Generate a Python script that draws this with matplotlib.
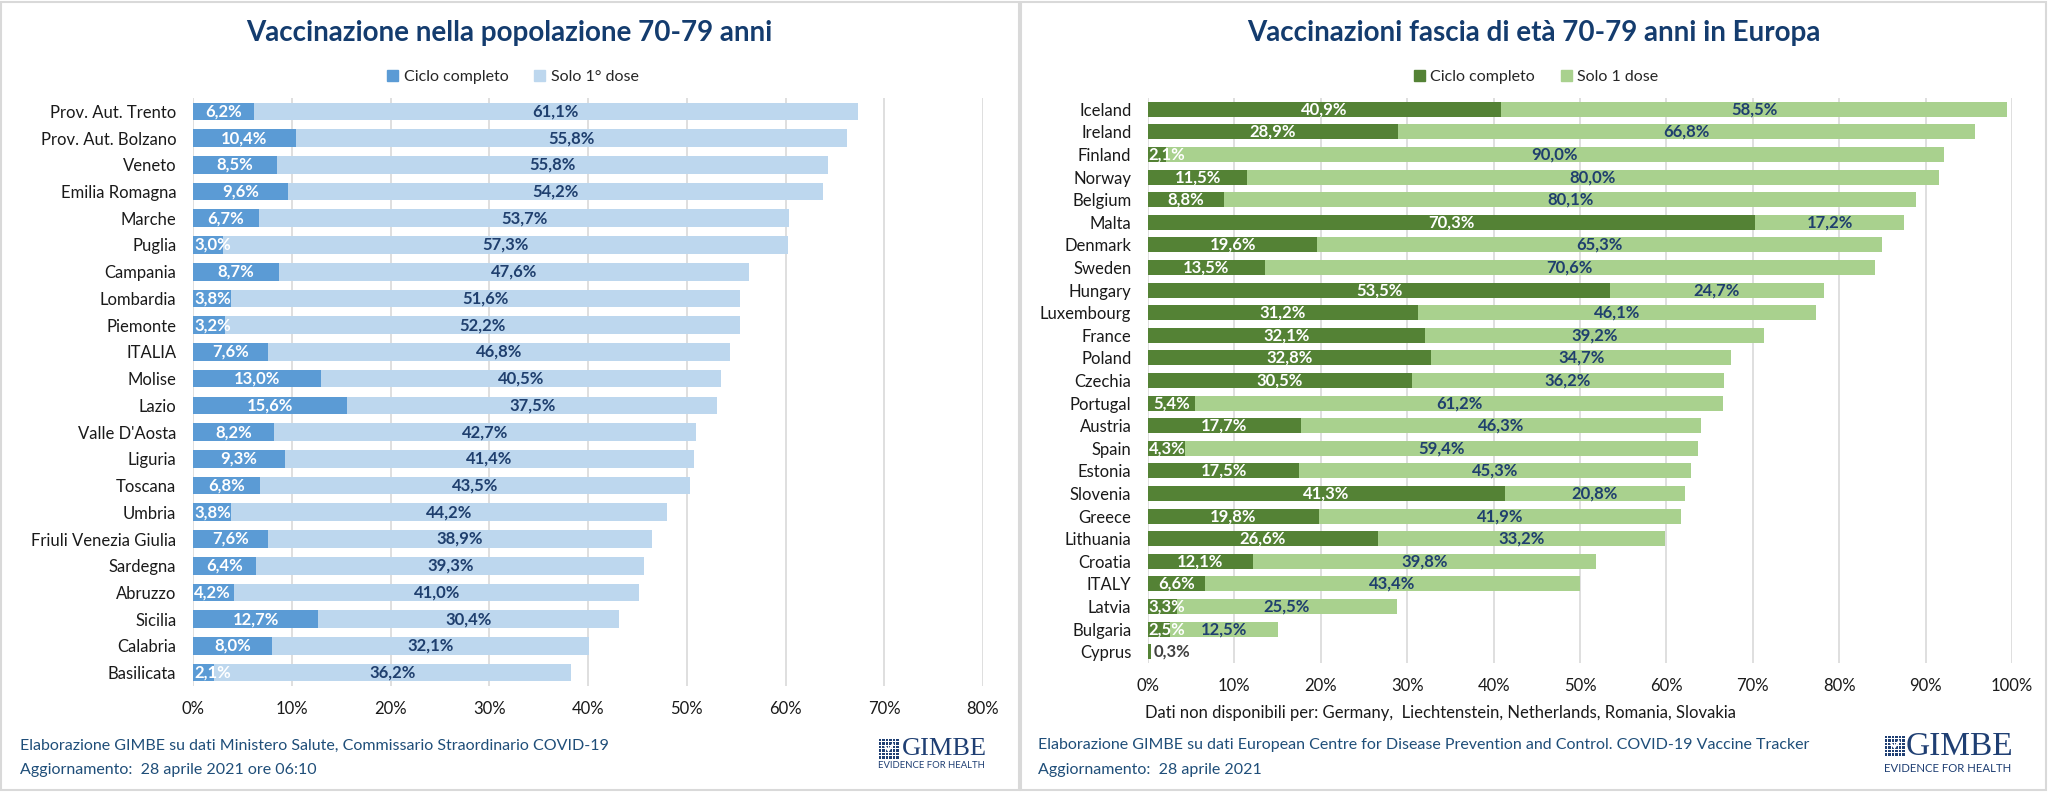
import numpy as np
import matplotlib
matplotlib.use('Agg')
import matplotlib.pyplot as plt
from matplotlib.patches import Rectangle, Patch
from matplotlib.lines import Line2D

plt.rcParams['font.family'] = ['Lato', 'DejaVu Sans']

# ---------------- data ----------------
regions = ["Prov. Aut. Trento", "Prov. Aut. Bolzano", "Veneto", "Emilia Romagna", "Marche",
           "Puglia", "Campania", "Lombardia", "Piemonte", "ITALIA", "Molise", "Lazio",
           "Valle D'Aosta", "Liguria", "Toscana", "Umbria", "Friuli Venezia Giulia",
           "Sardegna", "Abruzzo", "Sicilia", "Calabria", "Basilicata"]
it_full = [6.2, 10.4, 8.5, 9.6, 6.7, 3.0, 8.7, 3.8, 3.2, 7.6, 13.0, 15.6,
           8.2, 9.3, 6.8, 3.8, 7.6, 6.4, 4.2, 12.7, 8.0, 2.1]
it_first = [61.1, 55.8, 55.8, 54.2, 53.7, 57.3, 47.6, 51.6, 52.2, 46.8, 40.5, 37.5,
            42.7, 41.4, 43.5, 44.2, 38.9, 39.3, 41.0, 30.4, 32.1, 36.2]

countries = ["Iceland", "Ireland", "Finland", "Norway", "Belgium", "Malta", "Denmark",
             "Sweden", "Hungary", "Luxembourg", "France", "Poland", "Czechia", "Portugal",
             "Austria", "Spain", "Estonia", "Slovenia", "Greece", "Lithuania", "Croatia",
             "ITALY", "Latvia", "Bulgaria", "Cyprus"]
eu_full = [40.9, 28.9, 2.1, 11.5, 8.8, 70.3, 19.6, 13.5, 53.5, 31.2, 32.1, 32.8, 30.5,
           5.4, 17.7, 4.3, 17.5, 41.3, 19.8, 26.6, 12.1, 6.6, 3.3, 2.5, 0.3]
eu_first = [58.5, 66.8, 90.0, 80.0, 80.1, 17.2, 65.3, 70.6, 24.7, 46.1, 39.2, 34.7, 36.2,
            61.2, 46.3, 59.4, 45.3, 20.8, 41.9, 33.2, 39.8, 43.4, 25.5, 12.5, 0.0]

it_ticks = [0, 10, 20, 30, 40, 50, 60, 70, 80]
eu_ticks = [0, 10, 20, 30, 40, 50, 60, 70, 80, 90, 100]

it_title = "Vaccinazione nella popolazione 70-79 anni"
eu_title = "Vaccinazioni fascia di età 70-79 anni in Europa"
it_legend = ["Ciclo completo", "Solo 1° dose"]
eu_legend = ["Ciclo completo", "Solo 1 dose"]
it_source = ["Elaborazione GIMBE su dati Ministero Salute, Commissario Straordinario COVID-19",
             "Aggiornamento:  28 aprile 2021 ore 06:10"]
eu_source = ["Elaborazione GIMBE su dati European Centre for Disease Prevention and Control. COVID-19 Vaccine Tracker",
             "Aggiornamento:  28 aprile 2021"]
eu_note = "Dati non disponibili per: Germany,  Liechtenstein, Netherlands, Romania, Slovakia"

# ---------------- style ----------------
IT_DARK, IT_LIGHT = "#5B9BD5", "#BDD7EE"
EU_DARK, EU_LIGHT = "#548235", "#A9D18E"
NAVY_LABEL = "#1F3F6E"
TITLE_C = "#143C6E"
FOOT_C = "#1F4E79"
GRID_C = "#D9D9D9"
LOGO_C = "#1F3F73"

W, H = 2048, 794
fig = plt.figure(figsize=(W / 100, H / 100), dpi=100)


def fx(px):
    return px / W


def fy(py):
    return 1 - py / H


def fmt(v):
    return f"{v:.1f}".replace('.', ',') + '%'


def draw(ax, cats, full, first, c_dark, c_light, xmax, ticks):
    y = np.arange(len(cats))
    ax.barh(y, full, height=0.66, color=c_dark, zorder=3)
    ax.barh(y, first, left=full, height=0.66, color=c_light, zorder=3)
    # half of a label's width (about 22 px) expressed in data units
    px_per_unit = ax.get_position().width * W / xmax
    half_w = 22 / px_per_unit
    for yi, a, b in zip(y, full, first):
        if a < 1:
            ax.text(a + 0.4, yi, fmt(a), ha='left', va='center', color='#404040',
                    fontweight='bold', fontsize=12, zorder=4)
        elif a / 2 < half_w:
            ax.text(0.1, yi, fmt(a), ha='left', va='center', color='white',
                    fontweight='bold', fontsize=12, zorder=4)
        else:
            ax.text(a / 2, yi, fmt(a), ha='center', va='center', color='white',
                    fontweight='bold', fontsize=12, zorder=4)
        if b > 0:
            ax.text(a + b / 2, yi, fmt(b), ha='center', va='center', color=NAVY_LABEL,
                    fontweight='bold', fontsize=12, zorder=4)
    ax.set_xlim(0, xmax)
    ax.set_ylim(len(cats) - 0.5, -0.5)
    ax.set_yticks(y, cats)
    ax.set_xticks(ticks, [f"{t}%" for t in ticks])
    ax.grid(axis='x', color=GRID_C, lw=1.2)
    ax.grid(axis='y', visible=False)
    ax.set_axisbelow(True)
    for s in ax.spines.values():
        s.set_visible(False)
    ax.tick_params(axis='y', length=0, labelsize=12, labelcolor='#1a1a1a', pad=12)
    ax.tick_params(axis='x', length=0, labelsize=12, labelcolor='#1a1a1a', pad=11)


ax1 = fig.add_axes([fx(193), fy(686), fx(983) - fx(193), fy(98) - fy(686)])
draw(ax1, regions, it_full, it_first, IT_DARK, IT_LIGHT, 80, it_ticks)

ax2 = fig.add_axes([fx(1148), fy(663), fx(2012) - fx(1148), fy(98) - fy(663)])
draw(ax2, countries, eu_full, eu_first, EU_DARK, EU_LIGHT, 100, eu_ticks)

# titles
fig.text(fx(509), fy(33), it_title, ha='center', va='center', fontsize=20,
         fontweight='bold', color=TITLE_C)
fig.text(fx(1534), fy(33), eu_title, ha='center', va='center', fontsize=20,
         fontweight='bold', color=TITLE_C)

# legends
for cx, labels, cd, cl in [(513, it_legend, IT_DARK, IT_LIGHT), (1536, eu_legend, EU_DARK, EU_LIGHT)]:
    fig.legend(handles=[Patch(color=cd, label=labels[0]), Patch(color=cl, label=labels[1])],
               loc='center', bbox_to_anchor=(fx(cx), fy(77)), ncol=2, frameon=False,
               fontsize=11.5, handlelength=0.7, handleheight=0.7, handletextpad=0.35,
               columnspacing=1.6, labelcolor='#262626')

# note & sources
fig.text(fx(1145), fy(713), eu_note, ha='left', va='center', fontsize=12, color='#1a1a1a')
for i, line in enumerate(it_source):
    fig.text(fx(20), fy(746 + 24 * i), line, ha='left', va='center', fontsize=11.5, color=FOOT_C)
for i, line in enumerate(eu_source):
    fig.text(fx(1038), fy(745 + 25 * i), line, ha='left', va='center', fontsize=11.5, color=FOOT_C)


# logos (decorative)
def logo(ix, iy, isz, gx, gy, gsize, sx, sy, ssize):
    n = 6
    cell = isz / n
    for r in range(n):
        for c in range(n):
            fig.add_artist(Rectangle((fx(ix + c * cell + 0.5), fy(iy + (r + 1) * cell - 0.5)),
                                     (cell - 1) / W, (cell - 1) / H, transform=fig.transFigure,
                                     color=LOGO_C, lw=0))
    fig.add_artist(Line2D([fx(ix + isz * 0.35), fx(ix + isz * 0.5), fx(ix + isz * 0.7)],
                          [fy(iy + isz * 0.42), fy(iy + isz * 0.6), fy(iy + isz * 0.3)],
                          transform=fig.transFigure, color='white', lw=1.5))
    fig.text(fx(gx), fy(gy), "GIMBE", ha='left', va='center', fontsize=gsize,
             family=['Liberation Serif', 'DejaVu Serif'], color=LOGO_C)
    fig.text(fx(sx), fy(sy), "EVIDENCE FOR HEALTH", ha='left', va='center',
             fontsize=ssize, color=LOGO_C)


logo(878, 738, 21, 902, 749, 19, 878, 765.5, 6.8)
logo(1884, 735, 21, 1906, 747, 24, 1884, 768, 8.2)

# panel frames
fig.add_artist(Rectangle((fx(1), fy(790)), fx(1019) - fx(1), fy(2) - fy(790),
                         transform=fig.transFigure, fill=False, edgecolor=GRID_C, lw=1.5))
fig.add_artist(Rectangle((fx(1021), fy(790)), fx(2046) - fx(1021), fy(2) - fy(790),
                         transform=fig.transFigure, fill=False, edgecolor=GRID_C, lw=1.5))

fig.savefig("out.png", dpi=100, facecolor='white')
